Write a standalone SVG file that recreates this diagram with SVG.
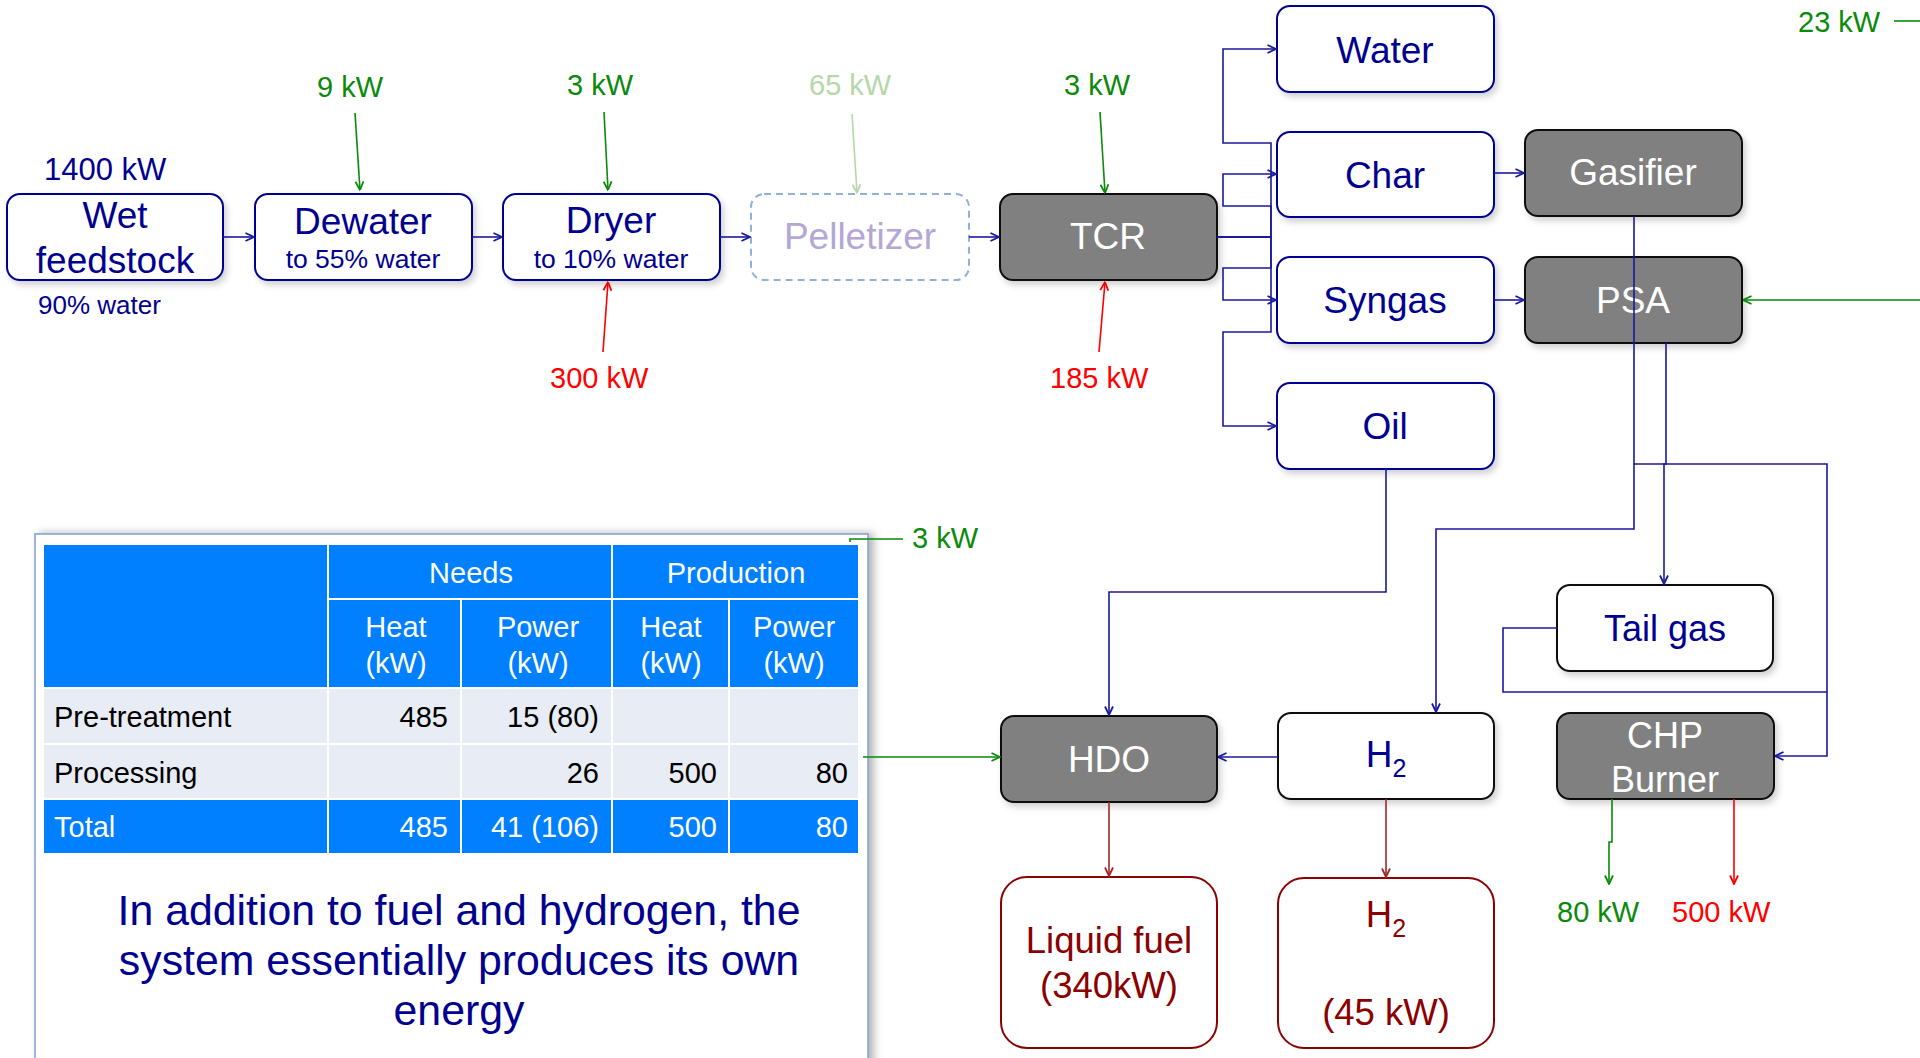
<svg xmlns="http://www.w3.org/2000/svg" width="1920" height="1058" viewBox="0 0 1920 1058">
<style>
text{font-family:"Liberation Sans",Arial,Helvetica,sans-serif}
.nb{fill:#fff;stroke:#000090;stroke-width:2}
.gb{fill:#808080;stroke:#111;stroke-width:2}
.wb{fill:#fff;stroke:#111;stroke-width:2}
.rb{fill:#fff;stroke:#8b0000;stroke-width:2}
.nt{fill:#000090;font-size:37px;text-anchor:middle}
.st{fill:#000090;font-size:26.5px;text-anchor:middle}
.wt{fill:#fff;font-size:37px;text-anchor:middle}
.rt{fill:#8b0000;font-size:36.5px;text-anchor:middle}
.kw{font-size:29px}
.g{fill:#0a8a0a}.r{fill:#ff0000}.lg{fill:#b6d7a8}
.cn{fill:none;stroke:#1a1a9c;stroke-width:1.6}
.cg{fill:none;stroke:#0a8a0a;stroke-width:1.6}
.clg{fill:none;stroke:#b6d7a8;stroke-width:1.6}
.cr{fill:none;stroke:#ff0000;stroke-width:1.6}
.cd{fill:none;stroke:#a02828;stroke-width:1.6}
.th{fill:#0080ff;stroke:#fff;stroke-width:2}
.tl{fill:#e8ecf4;stroke:#fff;stroke-width:2}
.tw{fill:#fff;font-size:29px}
.tk{fill:#000;font-size:29px}
</style>
<defs>
<filter id="sh" x="-10%" y="-10%" width="130%" height="140%"><feDropShadow dx="3" dy="4" stdDeviation="3" flood-color="#000" flood-opacity="0.18"/></filter>
<filter id="fsh" x="-5%" y="-5%" width="110%" height="110%"><feDropShadow dx="5" dy="0" stdDeviation="4" flood-color="#000" flood-opacity="0.3"/></filter>
<marker id="an" viewBox="0 0 10 10" refX="9.5" refY="5" markerWidth="10" markerHeight="10" markerUnits="userSpaceOnUse" orient="auto"><path d="M1,1 L9.5,5 L1,9" fill="none" stroke="#1a1a9c" stroke-width="1.8"/></marker>
<marker id="ag" viewBox="0 0 10 10" refX="9.5" refY="5" markerWidth="10" markerHeight="10" markerUnits="userSpaceOnUse" orient="auto"><path d="M1,1 L9.5,5 L1,9" fill="none" stroke="#0a8a0a" stroke-width="1.8"/></marker>
<marker id="alg" viewBox="0 0 10 10" refX="9.5" refY="5" markerWidth="10" markerHeight="10" markerUnits="userSpaceOnUse" orient="auto"><path d="M1,1 L9.5,5 L1,9" fill="none" stroke="#b6d7a8" stroke-width="1.8"/></marker>
<marker id="ar" viewBox="0 0 10 10" refX="9.5" refY="5" markerWidth="10" markerHeight="10" markerUnits="userSpaceOnUse" orient="auto"><path d="M1,1 L9.5,5 L1,9" fill="none" stroke="#ff0000" stroke-width="1.8"/></marker>
<marker id="ad" viewBox="0 0 10 10" refX="9.5" refY="5" markerWidth="10" markerHeight="10" markerUnits="userSpaceOnUse" orient="auto"><path d="M1,1 L9.5,5 L1,9" fill="none" stroke="#a02828" stroke-width="1.8"/></marker>
</defs>
<rect width="1920" height="1058" fill="#fff"/>

<!-- table panel -->
<g id="table">
<rect x="35" y="534" width="833" height="540" fill="#fff" stroke="#7f9fd0" stroke-width="1.5" filter="url(#fsh)"/>
<rect class="th" x="43" y="544" width="285" height="144"/>
<rect class="th" x="328" y="544" width="284" height="55"/>
<rect class="th" x="612" y="544" width="247" height="55"/>
<rect class="th" x="328" y="599" width="133" height="89"/>
<rect class="th" x="461" y="599" width="151" height="89"/>
<rect class="th" x="612" y="599" width="117" height="89"/>
<rect class="th" x="729" y="599" width="130" height="89"/>
<rect class="tl" x="43" y="688" width="285" height="56"/>
<rect class="tl" x="328" y="688" width="133" height="56"/>
<rect class="tl" x="461" y="688" width="151" height="56"/>
<rect class="tl" x="612" y="688" width="117" height="56"/>
<rect class="tl" x="729" y="688" width="130" height="56"/>
<rect class="tl" x="43" y="744" width="285" height="55"/>
<rect class="tl" x="328" y="744" width="133" height="55"/>
<rect class="tl" x="461" y="744" width="151" height="55"/>
<rect class="tl" x="612" y="744" width="117" height="55"/>
<rect class="tl" x="729" y="744" width="130" height="55"/>
<rect class="th" x="43" y="799" width="285" height="55"/>
<rect class="th" x="328" y="799" width="133" height="55"/>
<rect class="th" x="461" y="799" width="151" height="55"/>
<rect class="th" x="612" y="799" width="117" height="55"/>
<rect class="th" x="729" y="799" width="130" height="55"/>
<text class="tw" x="471" y="583" text-anchor="middle">Needs</text>
<text class="tw" x="736" y="583" text-anchor="middle">Production</text>
<text class="tw" x="396" y="637" text-anchor="middle">Heat</text>
<text class="tw" x="396" y="673" text-anchor="middle">(kW)</text>
<text class="tw" x="538" y="637" text-anchor="middle">Power</text>
<text class="tw" x="538" y="673" text-anchor="middle">(kW)</text>
<text class="tw" x="671" y="637" text-anchor="middle">Heat</text>
<text class="tw" x="671" y="673" text-anchor="middle">(kW)</text>
<text class="tw" x="794" y="637" text-anchor="middle">Power</text>
<text class="tw" x="794" y="673" text-anchor="middle">(kW)</text>
<text class="tk" x="54" y="727">Pre-treatment</text>
<text class="tk" x="448" y="727" text-anchor="end">485</text>
<text class="tk" x="599" y="727" text-anchor="end">15 (80)</text>
<text class="tk" x="54" y="783">Processing</text>
<text class="tk" x="599" y="783" text-anchor="end">26</text>
<text class="tk" x="717" y="783" text-anchor="end">500</text>
<text class="tk" x="848" y="783" text-anchor="end">80</text>
<text class="tw" x="54" y="837">Total</text>
<text class="tw" x="448" y="837" text-anchor="end">485</text>
<text class="tw" x="599" y="837" text-anchor="end">41 (106)</text>
<text class="tw" x="717" y="837" text-anchor="end">500</text>
<text class="tw" x="848" y="837" text-anchor="end">80</text>
<text fill="#000090" font-size="42.8" text-anchor="middle"><tspan x="459" y="925">In addition to fuel and hydrogen, the</tspan><tspan x="459" y="975">system essentially produces its own</tspan><tspan x="459" y="1025">energy</tspan></text>
</g>

<!-- nodes -->
<g id="wet"><rect class="nb" x="7" y="194" width="216" height="86" rx="13" filter="url(#sh)"/><text class="nt" x="115" y="228">Wet</text><text class="nt" x="115" y="273">feedstock</text></g>
<g id="dewater"><rect class="nb" x="255" y="194" width="217" height="86" rx="13" filter="url(#sh)"/><text class="nt" x="363" y="234">Dewater</text><text class="st" x="363" y="268">to 55% water</text></g>
<g id="dryer"><rect class="nb" x="503" y="194" width="217" height="86" rx="13" filter="url(#sh)"/><text class="nt" x="611" y="233">Dryer</text><text class="st" x="611" y="268">to 10% water</text></g>
<g id="pelletizer"><rect x="751" y="194" width="218" height="86" rx="13" fill="#fff" stroke="#8fb0d8" stroke-width="2" stroke-dasharray="7,5"/><text class="nt" x="860" y="249" style="fill:#b4a7d6">Pelletizer</text></g>
<g id="tcr"><rect class="gb" x="1000" y="194" width="217" height="86" rx="13" filter="url(#sh)"/><text class="wt" x="1108" y="249">TCR</text></g>
<g id="water"><rect class="nb" x="1277" y="6" width="217" height="86" rx="13" filter="url(#sh)"/><text class="nt" x="1385" y="63">Water</text></g>
<g id="char"><rect class="nb" x="1277" y="132" width="217" height="85" rx="13" filter="url(#sh)"/><text class="nt" x="1385" y="188">Char</text></g>
<g id="syngas"><rect class="nb" x="1277" y="257" width="217" height="86" rx="13" filter="url(#sh)"/><text class="nt" x="1385" y="313">Syngas</text></g>
<g id="oil"><rect class="nb" x="1277" y="383" width="217" height="86" rx="13" filter="url(#sh)"/><text class="nt" x="1385" y="439">Oil</text></g>
<g id="gasifier"><rect class="gb" x="1525" y="130" width="217" height="86" rx="13" filter="url(#sh)"/><text class="wt" x="1633" y="185">Gasifier</text></g>
<g id="psa"><rect class="gb" x="1525" y="257" width="217" height="86" rx="13" filter="url(#sh)"/><text class="wt" x="1633" y="313">PSA</text></g>
<g id="tailgas"><rect class="wb" x="1557" y="585" width="216" height="86" rx="13" filter="url(#sh)"/><text class="nt" x="1665" y="641" style="font-size:36px">Tail gas</text></g>
<g id="hdo"><rect class="gb" x="1001" y="716" width="216" height="86" rx="13" filter="url(#sh)"/><text class="wt" x="1109" y="772">HDO</text></g>
<g id="h2"><rect class="wb" x="1278" y="713" width="216" height="86" rx="13" filter="url(#sh)"/><text class="nt" x="1386" y="767">H<tspan font-size="25" dy="10">2</tspan></text></g>
<g id="chp"><rect class="gb" x="1557" y="713" width="217" height="86" rx="13" filter="url(#sh)"/><text class="wt" x="1665" y="748" style="font-size:36px">CHP</text><text class="wt" x="1665" y="792" style="font-size:36px">Burner</text></g>
<g id="liquidfuel"><rect class="rb" x="1001" y="877" width="216" height="171" rx="26"/><text class="rt" x="1109" y="953">Liquid fuel</text><text class="rt" x="1109" y="998">(340kW)</text></g>
<g id="h2product"><rect class="rb" x="1278" y="878" width="216" height="170" rx="26"/><text class="rt" x="1386" y="927">H<tspan font-size="25" dy="10">2</tspan></text><text class="rt" x="1386" y="1025">(45 kW)</text></g>

<!-- labels -->
<g id="labels">
<text x="44" y="180" fill="#000090" font-size="31">1400 kW</text>
<text x="38" y="314" fill="#000090" font-size="26">90% water</text>
<text class="kw g" x="317" y="97">9 kW</text>
<text class="kw g" x="567" y="95">3 kW</text>
<text class="kw lg" x="809" y="95">65 kW</text>
<text class="kw g" x="1064" y="95">3 kW</text>
<text class="kw r" x="550" y="388">300 kW</text>
<text class="kw r" x="1050" y="388">185 kW</text>
<text class="kw g" x="1798" y="32">23 kW</text>
<text class="kw g" x="912" y="548">3 kW</text>
<text class="kw g" x="1557" y="922">80 kW</text>
<text class="kw r" x="1672" y="922">500 kW</text>
</g>

<!-- connectors -->
<g id="connectors">
<path class="cn" d="M223,237 H254" marker-end="url(#an)"/>
<path class="cn" d="M472,237 H502" marker-end="url(#an)"/>
<path class="cn" d="M720,237 H750" marker-end="url(#an)"/>
<path class="cn" d="M969,237 H999" marker-end="url(#an)"/>
<path class="cn" d="M1217,237 H1271 V143 H1223 V49 H1276" marker-end="url(#an)"/>
<path class="cn" d="M1217,237 H1271 V206 H1223 V174 H1276" marker-end="url(#an)"/>
<path class="cn" d="M1217,237 H1271 V268 H1223 V300 H1276" marker-end="url(#an)"/>
<path class="cn" d="M1217,237 H1271 V332 H1223 V426 H1276" marker-end="url(#an)"/>
<path class="cn" d="M1494,173 H1524" marker-end="url(#an)"/>
<path class="cn" d="M1494,300 H1524" marker-end="url(#an)"/>
<path class="cn" d="M1386,469 V592 H1109 V715" marker-end="url(#an)"/>
<path class="cn" d="M1634,216 V529 H1436 V712" marker-end="url(#an)"/>
<path class="cn" d="M1666,343 V464 H1664 V584" marker-end="url(#an)"/>
<path class="cn" d="M1634,464 H1827 V756 H1775" marker-end="url(#an)"/>
<path class="cn" d="M1557,628 H1503 V692 H1827"/>
<path class="cn" d="M1278,757 H1218" marker-end="url(#an)"/>
<path class="cg" d="M355,113 L360,190" marker-end="url(#ag)"/>
<path class="cg" d="M604,112 L608,190" marker-end="url(#ag)"/>
<path class="clg" d="M852,114 L857,193" marker-end="url(#alg)"/>
<path class="cg" d="M1100,112 L1105,193" marker-end="url(#ag)"/>
<path class="cg" d="M1894,21 H1920"/>
<path class="cg" d="M1920,300 H1743" marker-end="url(#ag)"/>
<path class="cg" d="M850,542 V539 H903"/>
<path class="cg" d="M863,757 H1000" marker-end="url(#ag)"/>
<path class="cg" d="M1612,799 V842 H1609 V884" marker-end="url(#ag)"/>
<path class="cr" d="M603,352 L608,282" marker-end="url(#ar)"/>
<path class="cr" d="M1099,352 L1105,282" marker-end="url(#ar)"/>
<path class="cr" d="M1734,799 V884" marker-end="url(#ar)"/>
<path class="cd" d="M1109,802 V876" marker-end="url(#ad)"/>
<path class="cd" d="M1386,799 V877" marker-end="url(#ad)"/>
</g>
</svg>
